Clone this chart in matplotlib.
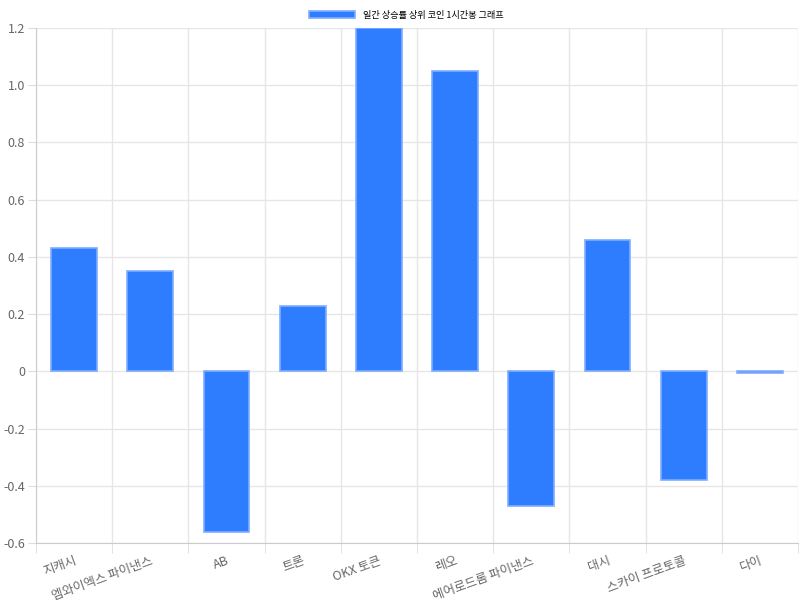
import numpy as np
from matplotlib import pyplot as plt

plt.rcParams['font.family'] = ['Noto Sans CJK KR', 'DejaVu Sans']

coins = ['지캐시', '엠와이엑스 파이낸스', 'AB', '트론', 'OKX 토큰', '레오',
         '에어로드롬 파이낸스', '대시', '스카이 프로토콜', '다이']
changes = [0.43, 0.35, -0.56, 0.23, 1.2, 1.05, -0.47, 0.46, -0.38, -0.005]
y_ticks = [-0.6, -0.4, -0.2, 0, 0.2, 0.4, 0.6, 0.8, 1.0, 1.2]
series_name = '일간 상승률 상위 코인 1시간봉 그래프'

fig = plt.figure(figsize=(8, 6), dpi=100)
ax = fig.add_axes([0.045, 0.095, 0.9525, 0.8583])

x = np.arange(len(coins))
ax.bar(x, changes, width=0.6, color='#2e7dff', edgecolor='#7fadff',
       linewidth=1.2, label=series_name, zorder=3)

ax.set_xlim(-0.5, len(coins) - 0.5)
ax.set_ylim(-0.6, 1.2)
ax.set_yticks(y_ticks)
ax.yaxis.set_major_formatter(plt.FuncFormatter(lambda v, p: '0' if abs(v) < 1e-9 else f'{v:.1f}'))

ax.set_xticks(x)
ax.set_xticklabels(coins, rotation=20, ha='right', rotation_mode='anchor')
ax.set_xticks(np.arange(-0.5, len(coins)), minor=True)
ax.tick_params(axis='x', which='major', length=0, pad=8, labelsize=9, labelcolor='#666666')
ax.tick_params(axis='x', which='minor', length=7, color='#dddddd')
ax.tick_params(axis='y', length=6, color='#dddddd', labelsize=9, labelcolor='#666666', pad=2)

ax.grid(True, axis='y', color='#e6e6e6', linewidth=1, zorder=0)
ax.grid(True, axis='x', which='minor', color='#e6e6e6', linewidth=1, zorder=0)
for side in ['top', 'right']:
    ax.spines[side].set_visible(False)
for side in ['left', 'bottom']:
    ax.spines[side].set_color('#cccccc')

ax.legend(loc='lower center', bbox_to_anchor=(0.486, 1.0), frameon=False,
          fontsize=6.6, handlelength=5, handleheight=0.9, borderaxespad=0.5)

plt.savefig('out.png', dpi=100)
